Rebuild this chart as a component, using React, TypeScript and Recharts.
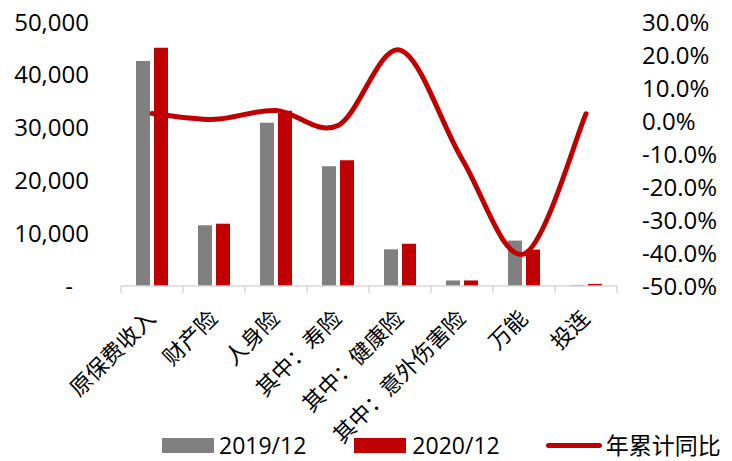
import React from "react";
import { ComposedChart, Bar, Line, XAxis, YAxis, Legend } from "recharts";

const categories = [
  "原保费收入",
  "财产险",
  "人身险",
  "其中：寿险",
  "其中：健康险",
  "其中：意外伤害险",
  "万能",
  "投连",
];
const prem2019 = [42600, 11500, 30900, 22700, 6950, 1050, 8600, 200];
const prem2020 = [45100, 11800, 33200, 23800, 8000, 1050, 6900, 400];
const yoyPct = [2.3, 0.5, 3.2, -1.4, 21.5, -11.5, -40.3, 2.2];
const leftTicks = [0, 10000, 20000, 30000, 40000, 50000];
const rightTicks = [-50, -40, -30, -20, -10, 0, 10, 20, 30];

const GRAY = "#808080";
const RED = "#C00000";
const AXIS = "#D9D9D9";
const FONT = "'Open Sans', 'Noto Sans CJK SC', sans-serif";

const W = 732;
const H = 461;
const LEFT_W = 121;
const RIGHT_W = 115;
const PLOT_W = W - LEFT_W - RIGHT_W;

const data = categories.map((name, i) => ({
  name,
  y2019: prem2019[i],
  y2020: prem2020[i],
  yoy: yoyPct[i],
}));

// Excel-style smoothed line (catmull-rom like, 1/6 control points)
function excelCurve(context: any) {
  let pts: [number, number][] = [];
  return {
    areaStart() {},
    areaEnd() {},
    lineStart() {
      pts = [];
    },
    point(x: number, y: number) {
      pts.push([+x, +y]);
    },
    lineEnd() {
      if (!pts.length) return;
      context.moveTo(pts[0][0], pts[0][1]);
      for (let i = 0; i < pts.length - 1; i++) {
        const p0 = pts[i - 1] || pts[i];
        const p1 = pts[i];
        const p2 = pts[i + 1];
        const p3 = pts[i + 2] || p2;
        context.bezierCurveTo(
          p1[0] + (p2[0] - p0[0]) / 6,
          p1[1] + (p2[1] - p0[1]) / 6,
          p2[0] - (p3[0] - p1[0]) / 6,
          p2[1] - (p3[1] - p1[1]) / 6,
          p2[0],
          p2[1]
        );
      }
    },
  };
}

function LeftTick({ x, y, payload }: any) {
  const zero = payload.value === 0;
  const label = zero ? "-" : payload.value.toLocaleString("en-US");
  return (
    <text x={zero ? x - 16 : x} y={y} dy="0.355em" textAnchor="end" fontSize={24} fontFamily={FONT} fill="#000">
      {label}
    </text>
  );
}

function CatTick({ x, y, payload, index }: any) {
  const half = PLOT_W / categories.length / 2;
  const tx = x + 5;
  const ty = y + 34;
  return (
    <g>
      <line x1={x - half} x2={x - half} y1={y} y2={y + 7} stroke={AXIS} strokeWidth={1.5} />
      {index === categories.length - 1 && (
        <line x1={x + half} x2={x + half} y1={y} y2={y + 7} stroke={AXIS} strokeWidth={1.5} />
      )}
      <text
        x={tx}
        y={ty}
        textAnchor="end"
        transform={`rotate(-45 ${tx} ${ty})`}
        fontSize={22}
        fontFamily={FONT}
        fill="#000"
      >
        {payload.value}
      </text>
    </g>
  );
}

function LegendBox() {
  const txt: React.CSSProperties = {
    fontSize: 23,
    fontFamily: FONT,
    color: "#000",
    lineHeight: "24px",
    whiteSpace: "nowrap",
    flexShrink: 0,
  };
  const box: React.CSSProperties = { flexShrink: 0 };
  return (
    <div style={{ display: "flex", alignItems: "center", paddingLeft: 162, height: 24, width: W, boxSizing: "border-box" }}>
      <span style={{ ...box, width: 52, height: 15, background: GRAY, marginRight: 5 }} />
      <span style={{ ...txt, marginRight: 48 }}>2019/12</span>
      <span style={{ ...box, width: 52, height: 15, background: RED, marginRight: 6 }} />
      <span style={{ ...txt, marginRight: 46 }}>2020/12</span>
      <span style={{ ...box, width: 56, height: 5, borderRadius: 3, background: RED, marginRight: 4 }} />
      <span style={txt}>年累计同比</span>
    </div>
  );
}

export default function App() {
  return (
    <div style={{ position: "absolute", left: 0, top: 0, width: W, height: H, background: "#fff" }}>
      <ComposedChart
        width={W}
        height={H}
        data={data}
        margin={{ top: 22, right: 0, bottom: 0, left: 0 }}
        barSize={14}
        barGap={4}
      >
        <XAxis
          dataKey="name"
          interval={0}
          height={175}
          axisLine={{ stroke: AXIS, strokeWidth: 1.5 }}
          tickLine={false}
          tickSize={0}
          tickMargin={0}
          tick={<CatTick />}
        />
        <YAxis
          yAxisId="left"
          width={LEFT_W}
          domain={[0, 50000]}
          ticks={leftTicks}
          axisLine={false}
          tickLine={false}
          tickSize={0}
          tickMargin={32}
          tick={<LeftTick />}
        />
        <YAxis
          yAxisId="right"
          orientation="right"
          width={RIGHT_W}
          domain={[-50, 30]}
          ticks={rightTicks}
          axisLine={false}
          tickLine={false}
          tickSize={0}
          tickMargin={25}
          tickFormatter={(v: number) => `${v.toFixed(1)}%`}
          tick={{ fontSize: 24, fontFamily: FONT, fill: "#000", textAnchor: "start" }}
        />
        <Legend
          layout="horizontal"
          verticalAlign="middle"
          align="center"
          wrapperStyle={{ top: 433, left: 0, width: W, height: 24 }}
          content={() => <LegendBox />}
        />
        <Bar yAxisId="left" dataKey="y2019" name="2019/12" fill={GRAY} isAnimationActive={false} />
        <Bar yAxisId="left" dataKey="y2020" name="2020/12" fill={RED} isAnimationActive={false} />
        <Line
          yAxisId="right"
          dataKey="yoy"
          name="年累计同比"
          type={excelCurve as any}
          stroke={RED}
          strokeWidth={5}
          strokeLinecap="round"
          dot={false}
          activeDot={false}
          isAnimationActive={false}
        />
      </ComposedChart>
    </div>
  );
}
